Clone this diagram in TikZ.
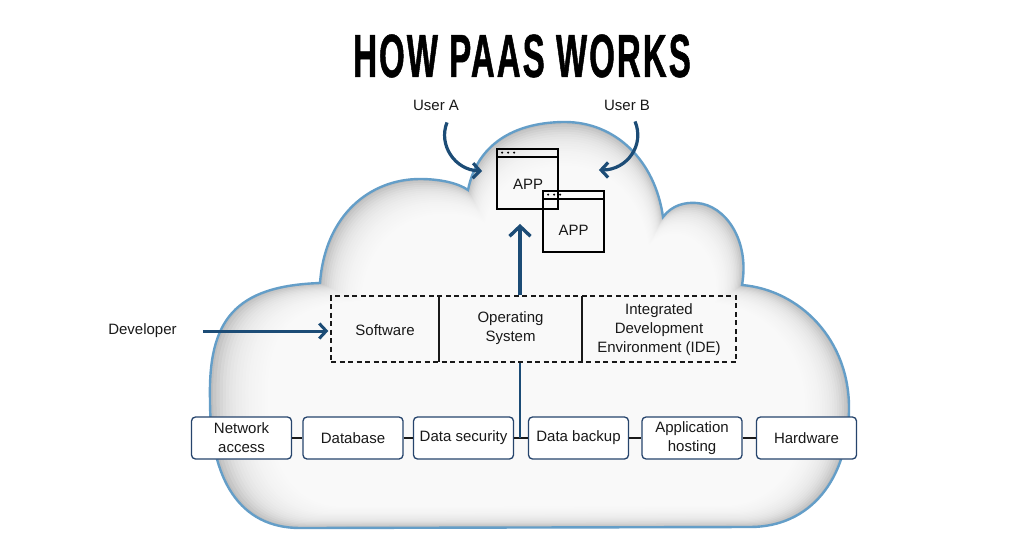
\documentclass[tikz,border=0pt]{standalone}
\usepackage{fontspec}
\setmainfont{Liberation Sans}
\newfontfamily\titlefont{Liberation Sans}[BoldFeatures={FakeStretch=0.54,FakeBold=0.8,LetterSpace=3.5}]
\usetikzlibrary{arrows.meta}
\definecolor{arrowblue}{RGB}{28,76,118}
\definecolor{cloudline}{RGB}{100,158,200}
\definecolor{cloudgray}{RGB}{190,190,190}
\definecolor{boxblue}{RGB}{38,68,108}
\definecolor{txt}{RGB}{25,25,25}
\newcommand{\cloudpath}{(300,528) .. controls (240,528) and (210,480) .. (210,400)
 .. controls (208,320) and (235,286) .. (320,283)
 .. controls (325,215) and (370,179) .. (420,179)
 .. controls (440,179) and (458,183) .. (468,190)
 .. controls (478,140) and (520,122) .. (565,122)
 .. controls (615,122) and (655,160) .. (663,217)
 .. controls (672,205) and (685,202) .. (697,203)
 .. controls (725,205) and (750,240) .. (742,285)
 .. controls (800,290) and (850,340) .. (849,410)
 .. controls (848,480) and (810,527) .. (750,527) -- cycle}
\tikzset{
 lbl/.style={text=txt, font=\fontsize{15}{19}\selectfont, align=center, inner sep=0pt},
 botbox/.style={lbl, draw=boxblue, line width=1.3pt, fill=white, rounded corners=4pt, minimum width=100pt, minimum height=42pt},
 link/.style={draw=txt, line width=1.6pt},
 divider/.style={draw=txt, line width=1.6pt},
 win/.style={draw=black, line width=1.8pt, minimum width=61pt, minimum height=60pt, inner sep=0pt},
 flow/.style={draw=arrowblue, line width=3.2pt, -{Straight Barb[length=7pt,width=15pt]}},
 flowv/.style={draw=arrowblue, line width=3.4pt, -{Straight Barb[length=10pt,width=21pt]}},
 flowline/.style={draw=arrowblue, line width=2.6pt},
}
\begin{document}
\begin{tikzpicture}[x=1pt,y=-1pt]
\useasboundingbox (0,0) rectangle (1024,538);
\fill[white] (0,0) rectangle (1024,538);
% cloud
\begin{scope}
 \clip \cloudpath;
 \fill[cloudgray] (0,0) rectangle (1024,538);
 \foreach \i in {1,...,26}{
   \pgfmathsetmacro{\s}{1-0.0088*\i}
   \fill[white, opacity=0.15, shift={(0.35*\i,0.45*\i)}, scale around={\s:(535,345)}] \cloudpath;
 }
\end{scope}
\draw[cloudline, line width=2.4pt] \cloudpath;

% title
\node[font=\titlefont\bfseries\fontsize{61}{61}\selectfont, inner sep=0pt] (title) at (522,56) {HOW PAAS WORKS};

% users
\node[lbl] (ua) at (436,105) {User A};
\node[lbl] (ub) at (627,105) {User B};

% windows
\node[win] (app1) at (527.5,179) {};
\node[win, minimum height=61pt] (app2) at (573.5,221.5) {};
\foreach \w in {app1,app2}{
  \draw[black, line width=1.6pt] ([yshift=-9pt]\w.north west) -- ([yshift=-9pt]\w.north east);
  \foreach \d in {6,12,18}
    \fill[black] ([xshift=\d pt,yshift=-4.5pt]\w.north west) circle (1.2pt);
}
\node[lbl] at (528,184) {APP};
\node[lbl] at (573.5,230) {APP};

\draw[flow] ([xshift=11pt,yshift=-12pt]ua.south) .. controls (438,145) and (455,170) .. ([xshift=-14pt,yshift=8pt]app1.west);
\draw[flow] ([xshift=8pt,yshift=-11pt]ub.south) .. controls (645,145) and (627,170) .. ([xshift=40pt,yshift=9pt]app1.east);

% middle stack
\node[draw=txt, dash pattern=on 5pt off 3.5pt, line width=1.4pt, minimum width=405pt, minimum height=66pt, inner sep=0pt] (stack) at (533.5,329) {};
\draw[divider] (439,296) -- (439,362);
\draw[divider] (582,296) -- (582,362);
\node[lbl] (sw) at (385,330) {Software};
\node[lbl] (os) at (510.5,328) {Operating\\System};
\node[lbl] (ide) at (659,330) {Integrated\\Development\\Environment (IDE)};

\node[lbl] (dev) at (142.5,331) {Developer};
\draw[flow, line width=3pt, shorten <=26pt, shorten >=2pt] (dev.east) -- (dev.east -| stack.west);

% bottom row
\node[botbox] (na) at (241.5,438) {Network\\access};
\node[botbox] (db) at (353,438) {Database};
\node[botbox] (ds) at (463.5,438) {Data security};
\node[botbox] (dbk) at (578.5,438) {Data backup};
\node[botbox] (ah) at (692,438) {Application\\hosting};
\node[botbox] (hw) at (806.5,438) {Hardware};
\draw[link] (na) -- (db);
\draw[link] (db) -- (ds);
\draw[link] (ds) -- (dbk);
\draw[link] (dbk) -- (ah);
\draw[link] (ah) -- (hw);
\coordinate (j) at (520,438);
\draw[flowline] (j) -- (stack.south -| j);
\draw[flowv, shorten >=14pt] (stack.north -| j) -- (app1.south -| j);
\end{tikzpicture}
\end{document}
